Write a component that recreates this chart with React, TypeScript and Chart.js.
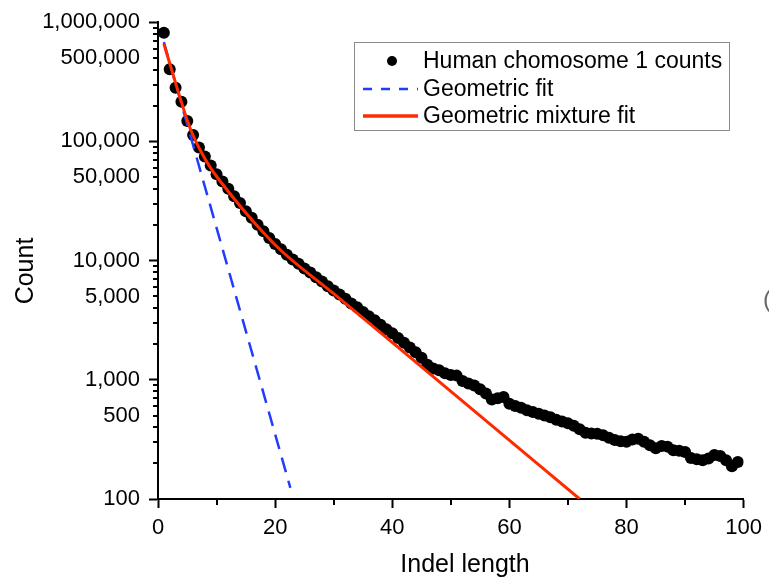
import React, { useEffect, useRef } from 'react';
import { Chart, registerables } from 'chart.js';

Chart.register(...registerables);

const indelLength = [
  1, 2, 3, 4, 5, 6, 7, 8, 9, 10, 11, 12, 13, 14, 15, 16, 17, 18, 19, 20,
  21, 22, 23, 24, 25, 26, 27, 28, 29, 30, 31, 32, 33, 34, 35, 36, 37, 38, 39, 40,
  41, 42, 43, 44, 45, 46, 47, 48, 49, 50, 51, 52, 53, 54, 55, 56, 57, 58, 59, 60,
  61, 62, 63, 64, 65, 66, 67, 68, 69, 70, 71, 72, 73, 74, 75, 76, 77, 78, 79, 80,
  81, 82, 83, 84, 85, 86, 87, 88, 89, 90, 91, 92, 93, 94, 95, 96, 97, 98, 99,
];

const chromosome1Counts = [
  815000, 403000, 282000, 215000, 148000, 113000, 88700, 74600, 62700, 53100,
  46100, 40100, 34600, 30400, 26000, 22900, 19950, 17600, 15500, 13800,
  12450, 11200, 10200, 9420, 8600, 7930, 7240, 6680, 6090, 5620,
  5190, 4780, 4360, 4070, 3710, 3420, 3160, 2900, 2650, 2460,
  2240, 2050, 1870, 1700, 1530, 1340, 1245, 1200, 1135, 1096,
  1084, 977, 933, 895, 832, 767, 684, 700, 716, 631,
  603, 582, 556, 537, 519, 501, 484, 462, 447, 431,
  412, 385, 359, 355, 353, 343, 327, 313, 305, 302,
  316, 320, 302, 282, 266, 279, 275, 257, 254, 248,
  221, 216, 211, 219, 234, 229, 211, 188, 204,
];

const geometricFitX = [1, 22.6];
const geometricFitY = [681000, 124];

const mixtureFitX = [1, 2.1, 3.8, 5.5, 7.2, 9, 12, 16.5, 21, 30, 50, 72];
const mixtureFitY = [659000, 435000, 229000, 128500, 84700, 59600, 38000, 20700, 12160, 5280, 800, 100];

const xTickValues = [0, 10, 20, 30, 40, 50, 60, 70, 80, 90, 100];
const xLabelValues = [0, 20, 40, 60, 80, 100];
const yMantissas = [1, 2, 3, 4, 5, 6, 7, 8, 9];
const yExponents = [2, 3, 4, 5];
const yLabelValues = [100, 500, 1000, 5000, 10000, 50000, 100000, 500000, 1000000];

const legendLabels = ['Human chomosome 1 counts', 'Geometric fit', 'Geometric mixture fit'];
const xTitle = 'Indel length';
const yTitle = 'Count';

const FONT = '"Liberation Sans", Arial, Helvetica, sans-serif';

const isPow10 = (v: number) => Math.abs(Math.log10(v) - Math.round(Math.log10(v))) < 1e-9;

const decorPlugin = {
  id: 'decor',
  afterDraw(chart: any) {
    const { ctx, chartArea, scales } = chart;
    const xs = scales.x;
    const ys = scales.y;
    ctx.save();
    // minor ticks
    ctx.strokeStyle = '#000';
    ctx.lineWidth = 2;
    xs.ticks.forEach((t: any) => {
      if (t.value % 20 !== 0) {
        const px = Math.round(xs.getPixelForValue(t.value));
        ctx.beginPath();
        ctx.moveTo(px, chartArea.bottom);
        ctx.lineTo(px, chartArea.bottom + 6);
        ctx.stroke();
      }
    });
    ys.ticks.forEach((t: any) => {
      if (!isPow10(t.value)) {
        const py = Math.round(ys.getPixelForValue(t.value));
        ctx.beginPath();
        ctx.moveTo(chartArea.left - 5, py);
        ctx.lineTo(chartArea.left, py);
        ctx.stroke();
      }
    });

    // axis titles
    ctx.fillStyle = '#000';
    ctx.font = `25px ${FONT}`;
    ctx.textAlign = 'center';
    ctx.textBaseline = 'alphabetic';
    ctx.fillText(xTitle, 465, 572);
    ctx.save();
    ctx.translate(33, 271);
    ctx.rotate(-Math.PI / 2);
    ctx.fillText(yTitle, 0, 0);
    ctx.restore();

    // legend
    const ds = chart.data.datasets;
    ctx.fillStyle = '#fff';
    ctx.fillRect(354, 42, 375, 88);
    ctx.strokeStyle = '#8a8a8a';
    ctx.lineWidth = 1;
    ctx.strokeRect(354.5, 42.5, 375, 88);
    const rowsY = [61, 89, 116];
    ctx.fillStyle = ds[0].pointBackgroundColor;
    ctx.beginPath();
    ctx.arc(392, rowsY[0], 5, 0, Math.PI * 2);
    ctx.fill();
    ctx.strokeStyle = ds[1].borderColor;
    ctx.lineWidth = 2.5;
    ctx.setLineDash([9, 9]);
    ctx.beginPath();
    ctx.moveTo(363, rowsY[1]);
    ctx.lineTo(418, rowsY[1]);
    ctx.stroke();
    ctx.setLineDash([]);
    ctx.strokeStyle = ds[2].borderColor;
    ctx.lineWidth = 3.5;
    ctx.beginPath();
    ctx.moveTo(363, rowsY[2]);
    ctx.lineTo(418, rowsY[2]);
    ctx.stroke();
    ctx.fillStyle = '#000';
    ctx.font = `23px ${FONT}`;
    ctx.textAlign = 'left';
    ctx.textBaseline = 'middle';
    legendLabels.forEach((l, i) => ctx.fillText(l, 423, rowsY[i] + 1));

    // stray glyph at right edge
    ctx.fillStyle = '#666';
    ctx.font = `24px ${FONT}`;
    ctx.textAlign = 'left';
    ctx.textBaseline = 'middle';
    ctx.fillText('(', 763, 300);
    ctx.restore();
  },
};

export default function App() {
  const canvasRef = useRef<HTMLCanvasElement | null>(null);

  useEffect(() => {
    const canvas = canvasRef.current;
    if (!canvas) return;

    const dots = indelLength.map((x, i) => ({ x, y: chromosome1Counts[i] }));
    const geo = geometricFitX.map((x, i) => ({ x, y: geometricFitY[i] }));
    const mix = mixtureFitX.map((x, i) => ({ x, y: mixtureFitY[i] }));

    const yTickList: number[] = [];
    yExponents.forEach((e) => yMantissas.forEach((m) => yTickList.push(m * Math.pow(10, e))));
    yTickList.push(1000000);

    const chart = new Chart(canvas, {
      type: 'scatter',
      data: {
        datasets: [
          {
            label: legendLabels[0],
            data: dots,
            showLine: false,
            pointRadius: 6,
            pointBackgroundColor: '#000000',
            pointBorderWidth: 0,
            pointBorderColor: '#000000',
            order: 3,
          } as any,
          {
            label: legendLabels[1],
            data: geo,
            showLine: true,
            borderColor: '#1f3cff',
            borderWidth: 2.5,
            borderDash: [15, 9],
            pointRadius: 0,
            order: 2,
          },
          {
            label: legendLabels[2],
            data: mix,
            showLine: true,
            borderColor: '#ff2a00',
            borderWidth: 3,
            cubicInterpolationMode: 'monotone',
            pointRadius: 0,
            order: 1,
          },
        ],
      },
      options: {
        responsive: false,
        animation: false,
        devicePixelRatio: 1,
        layout: { padding: { left: 0, top: 20, right: 21, bottom: 0 } },
        plugins: {
          legend: { display: false },
          tooltip: { enabled: false },
        },
        scales: {
          x: {
            type: 'linear',
            min: 0,
            max: 100,
            afterBuildTicks: (scale: any) => {
              scale.ticks = xTickValues.map((v) => ({ value: v }));
            },
            afterFit: (scale: any) => {
              scale.height = 80;
            },
            border: { display: true, color: '#000', width: 2 },
            grid: {
              display: true,
              drawOnChartArea: false,
              drawTicks: true,
              tickLength: 9,
              tickWidth: 2,
              tickColor: (c: any) => (c.tick && c.tick.value % 20 === 0 ? '#000' : 'rgba(0,0,0,0)'),
            },
            ticks: {
              autoSkip: false,
              maxRotation: 0,
              padding: 7,
              color: '#000',
              font: { family: FONT, size: 22 },
              callback: (v: any) => (xLabelValues.includes(Number(v)) ? String(v) : ''),
            },
          },
          y: {
            type: 'logarithmic',
            min: 100,
            max: 1000000,
            afterBuildTicks: (scale: any) => {
              scale.ticks = yTickList.map((v) => ({ value: v, major: isPow10(v) }));
            },
            afterFit: (scale: any) => {
              scale.width = 158;
            },
            border: { display: true, color: '#000', width: 2 },
            grid: {
              display: true,
              drawOnChartArea: false,
              drawTicks: true,
              tickLength: 9,
              tickWidth: 2,
              tickColor: (c: any) => (c.tick && isPow10(c.tick.value) ? '#000' : 'rgba(0,0,0,0)'),
            },
            ticks: {
              autoSkip: false,
              padding: 9,
              color: '#000',
              font: { family: FONT, size: 22 },
              callback: (v: any) => {
                const n = Number(v);
                return yLabelValues.some((l) => Math.abs(l - n) < 1e-6 * l) ? n.toLocaleString('en-US') : '';
              },
            },
          },
        },
      },
      plugins: [decorPlugin],
    });

    return () => chart.destroy();
  }, []);

  return (
    <div style={{ position: 'fixed', left: 0, top: 0, width: 769, height: 579, background: '#fff' }}>
      <canvas ref={canvasRef} width={769} height={579} style={{ width: 769, height: 579, display: 'block' }} />
    </div>
  );
}
